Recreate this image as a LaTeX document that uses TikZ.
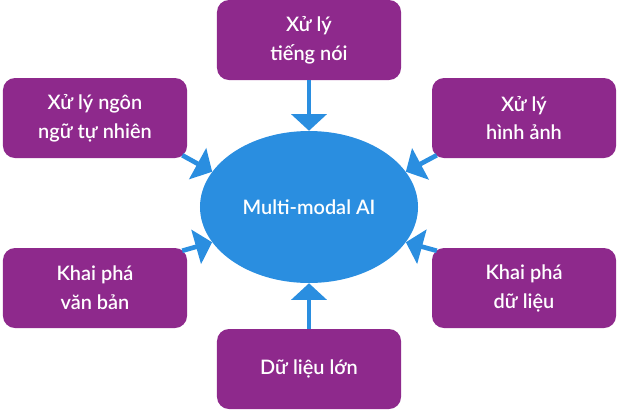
\documentclass[tikz,border=0pt]{standalone}
\usepackage{fontspec}
\setmainfont{Lato Semibold}
\usepackage{tikz}
\usetikzlibrary{arrows.meta,shapes.geometric,calc}
\definecolor{boxpurple}{RGB}{142,41,140}
\definecolor{aiblue}{RGB}{42,142,224}
\begin{document}
\begin{tikzpicture}[line cap=butt,line join=round,x=0.03cm,y=-0.03cm,
  task/.style={rectangle,rounded corners=0.36cm,fill=boxpurple,text=white,
    minimum width=5.52cm,minimum height=2.4cm,align=center,inner sep=0pt,
    font=\fontsize{17}{24.7}\selectfont},
  core/.style={ellipse,fill=aiblue,text=white,minimum width=6.54cm,
    minimum height=4.56cm,inner sep=0pt,font=\fontsize{17}{24.7}\selectfont},
  feed/.style={draw=aiblue,line width=0.14cm,
    -{Triangle[width=1.05cm,length=0.5cm]}}]

\useasboundingbox (0,0) rectangle (619,415);

\node[core] (ai) at (309,207) {Multi-modal AI};

\node[task] (speech) at (309,40) {Xử lý\\tiếng nói};
\node[task] (nlp) at (95,118) {Xử lý ngôn\\ngữ tự nhiên};
\node[task] (vision) at (524,118) {Xử lý\\hình ảnh};
\node[task] (textmining) at (95,288) {Khai phá\\văn bản};
\node[task] (datamining) at (524,288) {Khai phá\\dữ liệu};
\node[task] (bigdata) at (309,369) {Dữ liệu lớn};

\draw[feed] (speech.south) -- (ai.north);
\draw[feed] (bigdata.north) -- (ai.south);
\draw[feed] ($(nlp.south east)+(-5,-3)$) -- (ai.160);
\draw[feed] ($(vision.south west)+(5,-3)$) -- (ai.20);
\draw[feed] ($(textmining.north east)+(-5,3)$) -- (ai.200);
\draw[feed] ($(datamining.north west)+(5,3)$) -- (ai.-20);

\end{tikzpicture}
\end{document}
